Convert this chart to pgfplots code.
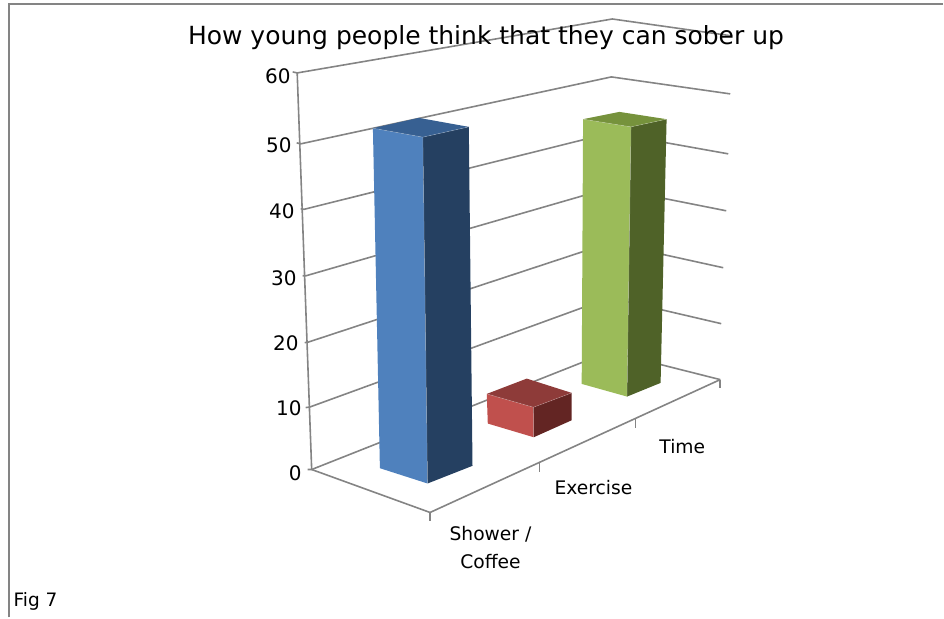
\documentclass[border=0pt]{standalone}
\usepackage{pgfplots}
\pgfplotsset{compat=1.18}
\usepackage{fontspec}
\setmainfont{DejaVu Sans}
\definecolor{gridgray}{HTML}{848484}
\definecolor{blueF}{HTML}{4F81BD}
\definecolor{blueS}{HTML}{254061}
\definecolor{blueT}{HTML}{376092}
\definecolor{redF}{HTML}{C0504D}
\definecolor{redS}{HTML}{632523}
\definecolor{redT}{HTML}{8E3B39}
\definecolor{greenF}{HTML}{9BBB59}
\definecolor{greenS}{HTML}{4F6228}
\definecolor{greenT}{HTML}{76923C}
\pgfplotsset{
  grid line/.style={gridgray, line width=1.6pt, no markers},
  face/.style={fill=#1, draw=none, no markers},
  edge/.style={draw=white, draw opacity=0.3, line width=0.5pt, no markers},
}
\begin{document}
\begin{tikzpicture}
\begin{axis}[
  width=944pt, height=618pt, scale only axis,
  xmin=0, xmax=944, ymin=0, ymax=618, y dir=reverse,
  axis lines=none, clip=false,
]
% Keep the whole canvas in the bounding box
\path (axis cs:0,0) -- (axis cs:944,618);
% Frame
\addplot[gridgray, line width=2pt, no markers] coordinates {(9,618) (9,4) (944,4)};

% Value axis
\addplot[grid line] coordinates {(297.5,73) (312,470)};
% Back walls: one polyline per level 0..60
\addplot[grid line] coordinates {(293,72) (297.5,73) (613,19) (733,36)};
\addplot[grid line] coordinates {(297,143) (301,144) (612,77) (731,94)};
\addplot[grid line] coordinates {(301,209) (304.5,209.5) (611.5,133) (729,154)};
\addplot[grid line] coordinates {(303,276) (306.5,276) (611,188) (727,211)};
\addplot[grid line] coordinates {(305,343) (308.5,342.5) (610.5,243) (724,268)};
\addplot[grid line] coordinates {(306,408) (310,407.5) (610.5,298) (722,324)};
\addplot[grid line] coordinates {(308,470) (312,470) (610,352) (721,380)};

% Floor edges and category ticks
\addplot[grid line] coordinates {(312,470) (430.5,513) (721,380)};
\addplot[grid line] coordinates {(430.5,513) (430.5,522)};
\addplot[grid line] coordinates {(540,463) (540,472)};
\addplot[grid line] coordinates {(636,419) (636,428)};
\addplot[grid line] coordinates {(721,380) (721,388)};

% Shower / Coffee
\addplot[face=blueF] coordinates {(373.3,128.3) (423.3,137.3) (428,484) (380.3,468.7) (373.3,128.3)};
\addplot[face=blueS] coordinates {(423.3,137.3) (469.3,127) (473,466.3) (428,484) (423.3,137.3)};
\addplot[face=blueT] coordinates {(373.3,128.3) (419.3,118) (469.3,127) (423.3,137.3) (373.3,128.3)};
\addplot[edge] coordinates {(373.3,128.3) (423.3,137.3) (469.3,127)};
\addplot[edge] coordinates {(423.3,137.3) (428,484)};

% Exercise
\addplot[face=redF] coordinates {(487.3,394.3) (534,407.7) (534.3,437.7) (488.3,424) (487.3,394.3)};
\addplot[face=redS] coordinates {(534,407.7) (572.3,393.3) (572.3,420.7) (534.3,437.7) (534,407.7)};
\addplot[face=redT] coordinates {(487.3,394.3) (527.3,379) (572.3,393.3) (534,407.7) (487.3,394.3)};
\addplot[edge] coordinates {(487.3,394.3) (534,407.7) (572.3,393.3)};
\addplot[edge] coordinates {(534,407.7) (534.3,437.7)};

% Time
\addplot[face=greenF] coordinates {(583.7,119.3) (631.7,127) (627.7,397) (582.3,384.3) (583.7,119.3)};
\addplot[face=greenS] coordinates {(631.7,127) (667.3,119.3) (661.3,383.3) (627.7,397) (631.7,127)};
\addplot[face=greenT] coordinates {(583.7,119.3) (620,112) (667.3,119.3) (631.7,127) (583.7,119.3)};
\addplot[edge] coordinates {(583.7,119.3) (631.7,127) (667.3,119.3)};
\addplot[edge] coordinates {(631.7,127) (627.7,397)};

% Title and labels
\node[anchor=base, inner sep=0pt, font=\fontsize{25}{28}\selectfont] at (axis cs:486.5,44.5) {How young people think that they can sober up};
\newcommand{\vlabel}[3]{\node[anchor=base east, inner sep=0pt, font=\fontsize{20}{22}\selectfont] at (axis cs:#1,#2) {#3};}
\vlabel{291}{84}{60}
\vlabel{292}{153}{50}
\vlabel{295}{218.5}{40}
\vlabel{297}{285.5}{30}
\vlabel{299}{350.5}{20}
\vlabel{302}{416}{10}
\vlabel{302}{481}{0}
\newcommand{\clabel}[3]{\node[anchor=base, inner sep=0pt, font=\fontsize{18.7}{20}\selectfont] at (axis cs:#1,#2) {#3};}
\clabel{491}{541.5}{Shower /}
\clabel{491}{569}{Coffee}
\clabel{594}{495.5}{Exercise}
\clabel{683}{453.5}{Time}
\node[anchor=base west, inner sep=0pt, font=\fontsize{18.5}{20}\selectfont] at (axis cs:13.5,607.5) {Fig 7};
\end{axis}
\end{tikzpicture}
\end{document}
